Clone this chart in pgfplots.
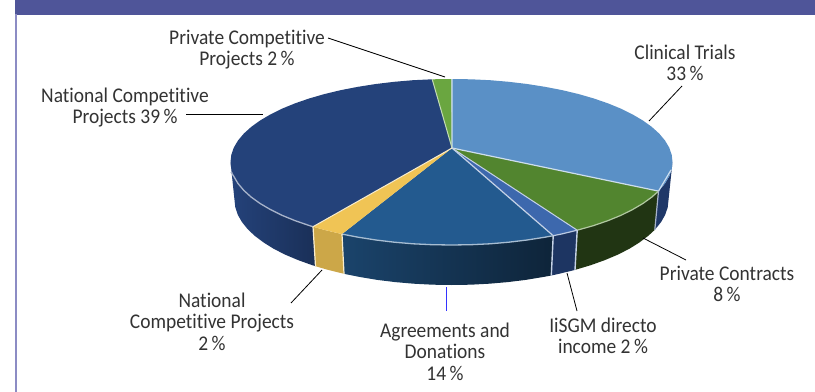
\documentclass[border=0pt]{standalone}
\usepackage{pgfplots}
\pgfplotsset{compat=1.18}
\usepackage{fontspec}
\setmainfont[FakeStretch=0.93,Ligatures=NoCommon]{Carlito}
\definecolor{bar}{HTML}{4F5599}
\definecolor{bord}{HTML}{8C8CC4}
\definecolor{clin}{HTML}{5A90C6}
\definecolor{natl}{HTML}{24427A}
\definecolor{agre}{HTML}{235A8F}
\definecolor{yell}{HTML}{F0C455}
\definecolor{iisg}{HTML}{3D68AD}
\definecolor{cont}{HTML}{52852F}
\definecolor{pcom}{HTML}{6AA640}
\definecolor{txt}{HTML}{333333}
\tikzset{lab/.style={font=\fontsize{21}{21.5}\selectfont, text=txt, align=center, inner sep=0pt}}
\begin{document}
\begin{tikzpicture}
\begin{axis}[
  at={(0,0)}, anchor=south west,
  scale only axis, width=815bp, height=392bp,
  xmin=0, xmax=815, ymin=0, ymax=392, y dir=reverse,
  axis lines=none, clip=true,
]
% page background
\addplot[fill=white, draw=none] coordinates {(0,0)(815,0)(815,392)(0,392)} --cycle;
% header bar and left border
\addplot[fill=bar, draw=none] coordinates {(15,0)(815,0)(815,14.7)(15,14.7)} --cycle;
\addplot[draw=bord, line width=2bp] coordinates {(16,14)(16,392)};

% sides
\addplot[draw=none, left color=natl, right color=natl!72!black] coordinates {(313,226.7)(309.4,225.6)(295.2,220.7)(282.2,215.4)(270.5,209.6)(260.1,203.5)(251.2,197.1)(243.8,190.4)(238,183.5)(233.8,176.4)(231.3,169.2)(230.5,162)(234.5,200)(235.3,207.4)(237.8,214.8)(241.9,222)(247.6,229.1)(254.8,235.9)(263.6,242.5)(273.7,248.8)(285.3,254.7)(298.1,260.1)(312,265.1)(315.5,266.2)} --cycle;
\addplot[fill=yell!85!black, draw=none] coordinates {(342,234.1)(324.7,230)(313,226.7)(315.5,266.2)(327,269.6)(344,273.8)} --cycle;
\addplot[draw=none, left color=agre!75!black, right color=agre!40!black] coordinates {(553.2,235.7)(544.9,237.2)(527.1,240)(508.7,242.2)(490,243.8)(470.8,244.7)(451.5,245)(432.2,244.7)(413,243.8)(394.3,242.2)(375.9,240)(358.1,237.2)(342,234.1)(344,273.8)(359.8,277)(377.3,279.9)(395.3,282.1)(413.7,283.7)(432.6,284.7)(451.5,285)(470.4,284.7)(489.3,283.7)(507.7,282.1)(525.7,279.9)(543.2,277)(551.3,275.5)} --cycle;
\addplot[fill=natl!80!black, draw=none] coordinates {(577.2,230.2)(562,233.9)(553.2,235.7)(551.3,275.5)(560,273.6)(575,269.9)} --cycle;
\addplot[fill=cont!40!black, draw=none] coordinates {(658.5,191.1)(651.8,197.1)(642.9,203.5)(632.5,209.6)(620.8,215.4)(607.8,220.7)(593.6,225.6)(578.3,230)(577.2,230.2)(575,269.9)(576,269.6)(591,265.1)(604.9,260.1)(617.7,254.7)(629.3,248.8)(639.4,242.5)(648.2,235.9)(654.8,229.8)} --cycle;
\addplot[fill=natl!85!black, draw=none] coordinates {(672.5,162)(671.7,169.2)(669.2,176.4)(665,183.5)(659.2,190.4)(658.5,191.1)(654.8,229.8)(655.4,229.1)(661.1,222)(665.2,214.8)(667.7,207.4)(668.5,200)} --cycle;

% top faces
\addplot[fill=clin, draw=none] coordinates {(452,148)(451.5,79)(470.8,79.3)(490,80.2)(508.7,81.8)(527.1,84)(544.9,86.8)(562,90.1)(578.3,94)(593.6,98.4)(607.8,103.3)(620.8,108.6)(632.5,114.4)(642.9,120.5)(651.8,126.9)(659.2,133.6)(665,140.5)(669.2,147.6)(671.7,154.8)(672.5,162)(671.7,169.2)(669.2,176.4)(665,183.5)(659.2,190.4)(658.5,191.1)} --cycle;
\addplot[fill=cont, draw=none] coordinates {(452,148)(658.5,191.1)(651.8,197.1)(642.9,203.5)(632.5,209.6)(620.8,215.4)(607.8,220.7)(593.6,225.6)(578.3,230)(577.2,230.2)} --cycle;
\addplot[fill=iisg, draw=none] coordinates {(452,148)(577.2,230.2)(562,233.9)(553.2,235.7)} --cycle;
\addplot[fill=agre, draw=none] coordinates {(452,148)(553.2,235.7)(544.9,237.2)(527.1,240)(508.7,242.2)(490,243.8)(470.8,244.7)(451.5,245)(432.2,244.7)(413,243.8)(394.3,242.2)(375.9,240)(358.1,237.2)(342,234.1)} --cycle;
\addplot[fill=yell, draw=none] coordinates {(452,148)(342,234.1)(324.7,230)(313,226.7)} --cycle;
\addplot[fill=natl, draw=none] coordinates {(452,148)(313,226.7)(309.4,225.6)(295.2,220.7)(282.2,215.4)(270.5,209.6)(260.1,203.5)(251.2,197.1)(243.8,190.4)(238,183.5)(233.8,176.4)(231.3,169.2)(230.5,162)(231.3,154.8)(233.8,147.6)(238,140.5)(243.8,133.6)(251.2,126.9)(260.1,120.5)(270.5,114.4)(282.2,108.6)(295.2,103.3)(309.4,98.4)(324.7,94)(341,90.1)(358.1,86.8)(375.9,84)(394.3,81.8)(413,80.2)(432.2,79.3)} --cycle;
\addplot[fill=pcom, draw=none] coordinates {(452,148)(432.2,79.3)(451.5,79)} --cycle;

% light edges on the top face
\addplot[draw=white!70!clin, line width=1.2bp] coordinates {(452,79)(452,148)(658.5,191.1)(671,170)};
\addplot[draw=white!60!pcom, line width=1bp] coordinates {(432.2,79.3)(452,148)};
\addplot[draw=white!70!iisg, line width=1.2bp] coordinates {(452,148)(553.2,235.7)};
\addplot[draw=white!70!iisg, line width=1bp] coordinates {(452,148)(577.2,230.2)};
\addplot[draw=white!70!yell, line width=1bp] coordinates {(452,148)(313,226.7)};
\addplot[draw=white!60!natl, line width=1.3bp] coordinates {(231,172)(233.8,176.4)(238,183.5)(243.8,190.4)(251.2,197.1)(260.1,203.5)(270.5,209.6)(282.2,215.4)(295.2,220.7)(309.4,225.6)(313,226.7)};
\addplot[draw=white!60!agre, line width=1.3bp] coordinates {(342,234.1)(358.1,237.2)(375.9,240)(394.3,242.2)(413,243.8)(432.2,244.7)(451.5,245)(470.8,244.7)(490,243.8)(508.7,242.2)(527.1,240)(544.9,237.2)(553.2,235.7)};
\addplot[draw=white!65!iisg, line width=1.2bp] coordinates {(553.2,235.7)(562,233.9)(577.2,230.2)};
\addplot[draw=white!55!cont, line width=1.2bp] coordinates {(577.2,230.2)(593.6,225.6)(607.8,220.7)(620.8,215.4)(632.5,209.6)(642.9,203.5)(651.8,197.1)(658.5,191.1)};
% dividers on the side
\addplot[draw=white!70!yell, line width=1.2bp] coordinates {(313,226.7)(315.5,266.2)};
\addplot[draw=white!70!yell, line width=1.2bp] coordinates {(342,234.1)(344,273.8)};
\addplot[draw=white!70!iisg, line width=1.4bp] coordinates {(553.2,235.7)(551.3,275.5)};
\addplot[draw=white!70!iisg, line width=1.4bp] coordinates {(577.2,230.2)(575,269.9)};
\addplot[draw=white!60!natl, line width=1.2bp] coordinates {(658.5,191.1)(654.8,229.8)};

% leaders
\addplot[draw=black, line width=0.8bp] coordinates {(328,38)(445,77)};
\addplot[draw=black, line width=0.8bp] coordinates {(186,114)(263,114)};
\addplot[draw=black, line width=0.8bp] coordinates {(682,86)(649,121)};
\addplot[draw=black, line width=0.8bp] coordinates {(643,238)(686,260)};
\addplot[draw=black, line width=0.8bp] coordinates {(567,273)(577,311)};
\addplot[draw=black, line width=0.8bp] coordinates {(322,270)(291,303)};
\addplot[draw=blue!80!white, line width=0.8bp] coordinates {(446,287)(446,311)};

% labels
\node[lab] at (axis cs:247,49.5) {Private Competitive\\Projects 2\,\%};
\node[lab] at (axis cs:125,107.5) {National Competitive\\Projects 39\,\%};
\node[lab] at (axis cs:685,63) {Clinical Trials\\33\,\%};
\node[lab] at (axis cs:727,284) {Private Contracts\\8\,\%};
\node[lab] at (axis cs:603,336) {IiSGM directo\\income 2\,\%};
\node[lab] at (axis cs:445,351.5) {Agreements and\\Donations\\14\,\%};
\node[lab] at (axis cs:212,321.5) {National\\Competitive Projects\\2\,\%};
\end{axis}
\end{tikzpicture}
\end{document}
